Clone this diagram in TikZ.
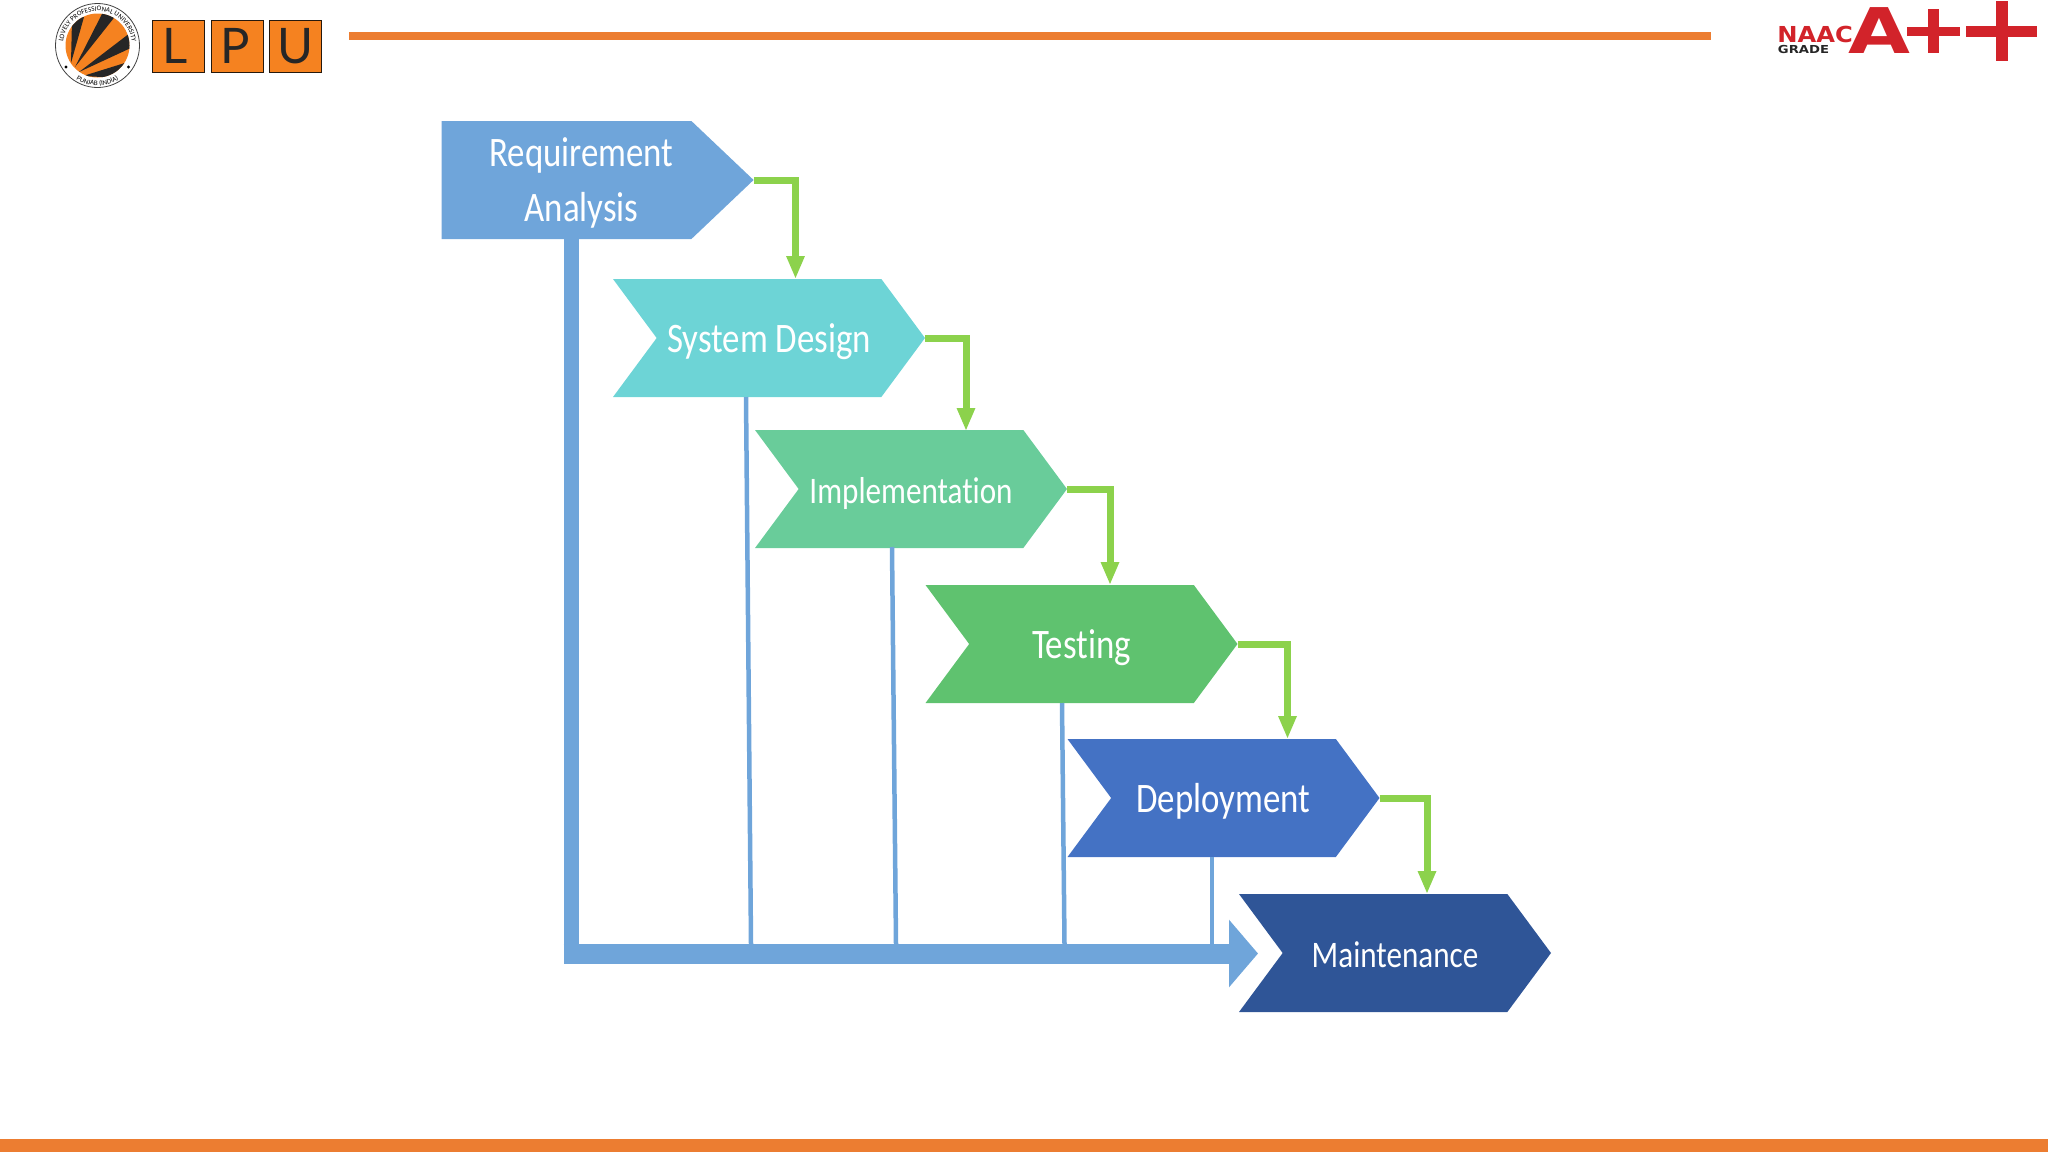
\documentclass[tikz,border=0pt]{standalone}
\usepackage{fontspec}
\setmainfont[FakeStretch=0.83,Ligatures=NoCommon]{Carlito}
\newfontfamily\logofont{Lato}
\newfontfamily\gradefont{DejaVu Sans}
\newfontfamily\sealfont{Carlito}
\usetikzlibrary{arrows.meta,calc,decorations.text,shapes.symbols}
\definecolor{lpuorange}{HTML}{F58220}
\definecolor{rulecolor}{HTML}{EC7D31}
\definecolor{naacred}{HTML}{D2232A}
\definecolor{reqblue}{HTML}{6FA5DA}
\definecolor{sysfill}{HTML}{6DD4D6}
\definecolor{impfill}{HTML}{69CC9A}
\definecolor{tesfill}{HTML}{5FC26F}
\definecolor{depfill}{HTML}{4472C4}
\definecolor{maifill}{HTML}{2F5597}
\definecolor{elbowgreen}{HTML}{8CD24C}
\tikzset{
	chevron/.style={signal, signal to=east, signal from=west, signal pointer angle=107, minimum width=312pt, minimum height=118pt, inner sep=0pt, text=white, font=\fontsize{42}{55}\selectfont, align=center},
	oneline/.style={chevron, text height=28pt, text depth=0pt},
	oneslim/.style={oneline, font=\fontsize{37.5}{55}\selectfont},
	elbow/.style={draw=elbowgreen, line width=7pt, -{Triangle[length=23pt,width=17pt]}},
	drop/.style={draw=reqblue, line width=4.5pt},
	lpubox/.style={draw=black!80!brown, fill=lpuorange, line width=1pt, minimum size=52pt, inner sep=0pt, text=black!85, font=\logofont\fontsize{49}{49}\selectfont},
}
\begin{document}
\begin{tikzpicture}[x=1pt,y=-1pt]
	%%%%% FRAME %%%%%
	\useasboundingbox (0,0) rectangle (2048,1152);
	\fill[rulecolor] (349,31.5) rectangle (1711,39.5);
	\fill[rulecolor] (0,1139) rectangle (2048,1152);

	%%%%% SEAL %%%%%
	\coordinate (seal) at (97.5,45.5);
	\draw[line width=0.8pt, black!75] (seal) circle (42pt);
	\fill[lpuorange] (seal) circle (32pt);
	\begin{scope}
		\clip (seal) circle (32pt);
		\fill[black!85] (71,63) -- (72,20) -- (84,17) -- cycle;
		\fill[black!85] (75,67) -- (103,12) -- (117,14) -- cycle;
		\fill[black!85] (79,72) -- (130,33) -- (133,47) -- cycle;
		\fill[black!85] (83,76) -- (128,62) -- (120,78) -- cycle;
	\end{scope}
	\fill[black] (66,67) circle (1.6pt);
	\fill[black] (128.5,67) circle (1.6pt);
	\path[decorate, decoration={text along path, text align=center, text={|\sealfont\fontsize{7}{7}\selectfont|LOVELY PROFESSIONAL UNIVERSITY}}]
		(seal) ++(193:34.5pt) arc[start angle=193, end angle=-13, radius=34.5pt];
	\path[decorate, decoration={text along path, text align=center, text={|\sealfont\fontsize{7}{7}\selectfont|PUNJAB (INDIA)}}]
		(seal) ++(220:40pt) arc[start angle=220, end angle=320, radius=40pt];

	\node[lpubox] (boxl) at (178,46) {\hspace*{-5pt}L};
	\node[lpubox] (boxp) at (237,46) {\hspace*{-3pt}P};
	\node[lpubox] (boxu) at (295.5,46) {U};

	%%%%% GRADE %%%%%
	\node[inner sep=0pt, text=naacred, xscale=1.1, font=\gradefont\bfseries\fontsize{22}{22}\selectfont] (naac) at (1815,34) {NAAC};
	\node[inner sep=0pt, text=black!85, xscale=1.2, font=\gradefont\bfseries\fontsize{11}{11}\selectfont] (grade) at (1803.5,49) {GRADE};
	\node[inner sep=0pt, text=naacred, xscale=1.27, font=\gradefont\bfseries\fontsize{63}{63}\selectfont] (biga) at (1879,31) {A};
	\fill[naacred] (1907,26.5) rectangle (1960,35.5);
	\fill[naacred] (1928,9) rectangle (1939,53);
	\fill[naacred] (1966,26) rectangle (2037,37);
	\fill[naacred] (1996,1) rectangle (2008,61);

	%%%%% STEPS %%%%%
	\node[chevron, signal from=nowhere, signal pointer angle=87, fill=reqblue] (req) at (566.5,180) {\hspace*{30pt}\rule{0pt}{35pt}Requirement\\\hspace*{30pt}Analysis};
	\node[oneline, fill=sysfill] (sys) at (769,338) {System Design};
	\node[oneslim, fill=impfill] (imp) at (911,489) {Implementation};
	\node[oneline, fill=tesfill] (tes) at (1081.5,644) {Testing};
	\node[oneline, fill=depfill] (dep) at (1223.5,798) {Deployment};
	\node[oneslim, fill=maifill] (mai) at (1395,953) {Maintenance};

	%%%%% ELBOWS %%%%%
	\coordinate (sysin) at (795.5,279);
	\coordinate (impin) at (966,431);
	\coordinate (tesin) at (1110,585);
	\coordinate (depin) at (1287.5,739);
	\coordinate (maiin) at (1427,894);
	\draw[elbow] (req.east) -| (sysin);
	\draw[elbow] (sys.east) -| (impin);
	\draw[elbow] (imp.east) -| (tesin);
	\draw[elbow] (tes.east) -| (depin);
	\draw[elbow] (dep.east) -| (maiin);

	%%%%% FEEDBACK %%%%%
	\coordinate (reqfoot) at (571,239);
	\coordinate (corner) at (571,963.5);
	\coordinate (busstart) at (563.5,953.5);
	\coordinate (bustip) at (1258,953.5);
	\draw[draw=reqblue, line width=15pt] (reqfoot) -- (corner);
	\draw[draw=reqblue, line width=20pt, -{Triangle[length=29pt,width=66pt]}] (busstart) -- (bustip);
	\coordinate (sysfoot) at (746,397);
	\coordinate (sysbus) at (751,944);
	\coordinate (impfoot) at (892,547);
	\coordinate (impbus) at (896,944);
	\coordinate (tesfoot) at (1062,703);
	\coordinate (tesbus) at (1064.5,944);
	\coordinate (depfoot) at (1212,857);
	\coordinate (depbus) at (1212,944);
	\draw[drop] (sysfoot) -- (sysbus);
	\draw[drop] (impfoot) -- (impbus);
	\draw[drop] (tesfoot) -- (tesbus);
	\draw[drop] (depfoot) -- (depbus);
\end{tikzpicture}
\end{document}
